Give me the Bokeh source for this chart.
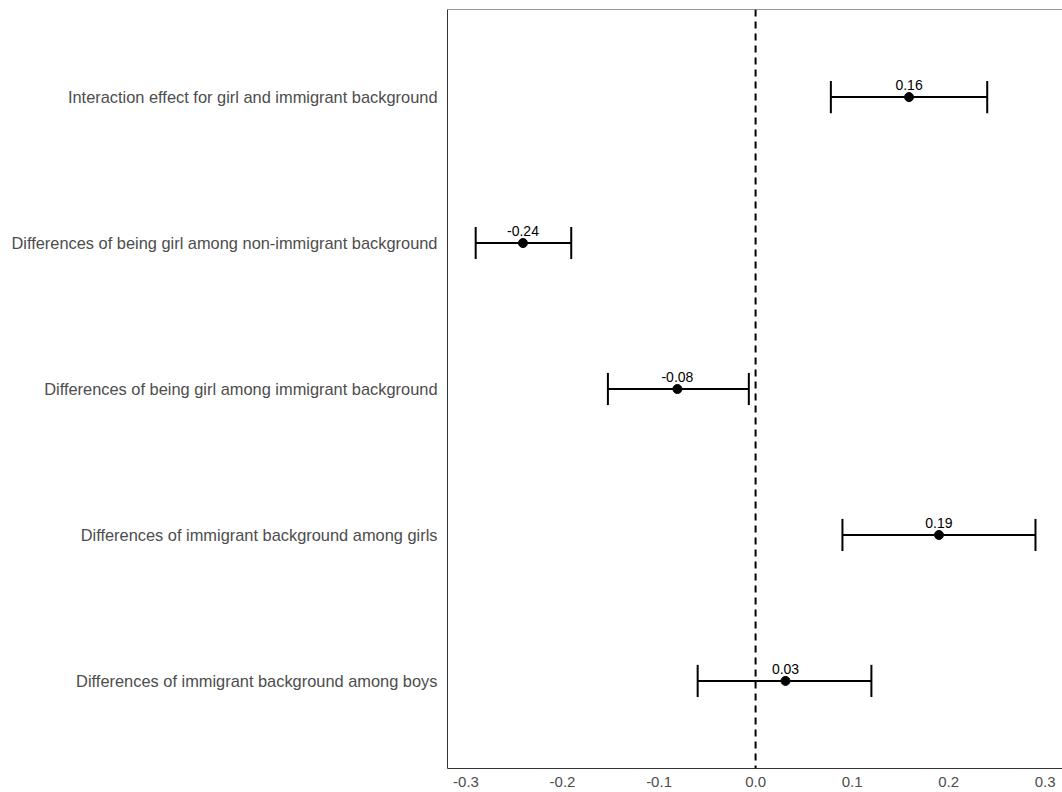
from bokeh.plotting import figure
from bokeh.models import FixedTicker, Span, Range1d, ColumnDataSource
from bokeh.core.properties import value
from bokeh.embed import file_html
from bokeh.resources import INLINE

# Data (top to bottom as displayed)
categories = [
    "Interaction effect for girl and immigrant background",
    "Differences of being girl among non-immigrant background",
    "Differences of being girl among immigrant background",
    "Differences of immigrant background among girls",
    "Differences of immigrant background among boys",
]
estimates = [0.159, -0.241, -0.081, 0.190, 0.031]
lower_ci = [0.078, -0.290, -0.153, 0.090, -0.060]
upper_ci = [0.240, -0.191, -0.007, 0.290, 0.120]
x_ticks = [-0.3, -0.2, -0.1, 0.0, 0.1, 0.2, 0.3]
x_tick_labels = ["-0.3", "-0.2", "-0.1", "0.0", "0.1", "0.2", "0.3"]

n = len(categories)
ypos = [n - i for i in range(n)]
cap = 0.11

src = ColumnDataSource(dict(
    y=ypos, est=estimates, lo=lower_ci, hi=upper_ci,
    ylo=[v - cap for v in ypos], yhi=[v + cap for v in ypos],
    lab=[f"{v:.2f}" for v in estimates],
))

FONT = "Liberation Sans"

p = figure(width=1062, height=792,
           x_range=Range1d(-0.3192, 0.318), y_range=Range1d(0.4, n + 0.6),
           output_backend="svg", toolbar_location=None,
           min_border_left=447, min_border_top=9, min_border_right=0, min_border_bottom=24)

p.outline_line_color = None
p.xgrid.grid_line_color = None
p.ygrid.grid_line_color = None
p.background_fill_color = "white"
p.border_fill_color = "white"

# zero reference line
p.add_layout(Span(location=0, dimension="height", line_color="black",
                  line_width=2, line_dash="7 5"))
# top border
p.add_layout(Span(location=n + 0.6, dimension="width", line_color="#333333", line_width=1))

# error bars
p.segment(x0="lo", y0="y", x1="hi", y1="y", source=src, line_color="black", line_width=2)
p.segment(x0="lo", y0="ylo", x1="lo", y1="yhi", source=src, line_color="black", line_width=2)
p.segment(x0="hi", y0="ylo", x1="hi", y1="yhi", source=src, line_color="black", line_width=2)
p.scatter(x="est", y="y", source=src, size=9, color="black")
p.text(x="est", y="y", text="lab", source=src, y_offset=-7,
       text_align="center", text_baseline="bottom",
       text_font=value(FONT), text_font_size="14px", text_color="black")

# x axis
p.xaxis.ticker = FixedTicker(ticks=x_ticks)
p.xaxis.major_label_overrides = dict(zip(x_ticks, x_tick_labels))
p.xaxis.major_tick_out = 0
p.xaxis.major_tick_in = 0
p.xaxis.minor_tick_out = 0
p.xaxis.minor_tick_in = 0
p.xaxis.major_label_standoff = 8
p.xaxis.axis_line_color = "#333333"
p.xaxis.major_label_text_font = FONT
p.xaxis.major_label_text_font_size = "15px"
p.xaxis.major_label_text_color = "#4d4d4d"

# y axis
p.yaxis.ticker = FixedTicker(ticks=ypos)
p.yaxis.major_label_overrides = {y: c for y, c in zip(ypos, categories)}
p.yaxis.major_tick_out = 0
p.yaxis.major_tick_in = 0
p.yaxis.minor_tick_out = 0
p.yaxis.minor_tick_in = 0
p.yaxis.major_label_standoff = 10
p.yaxis.axis_line_color = "#333333"
p.yaxis.major_label_text_font = FONT
p.yaxis.major_label_text_font_size = "16.4px"
p.yaxis.major_label_text_color = "#4d4d4d"

open("out.html", "w").write(file_html(p, INLINE))
